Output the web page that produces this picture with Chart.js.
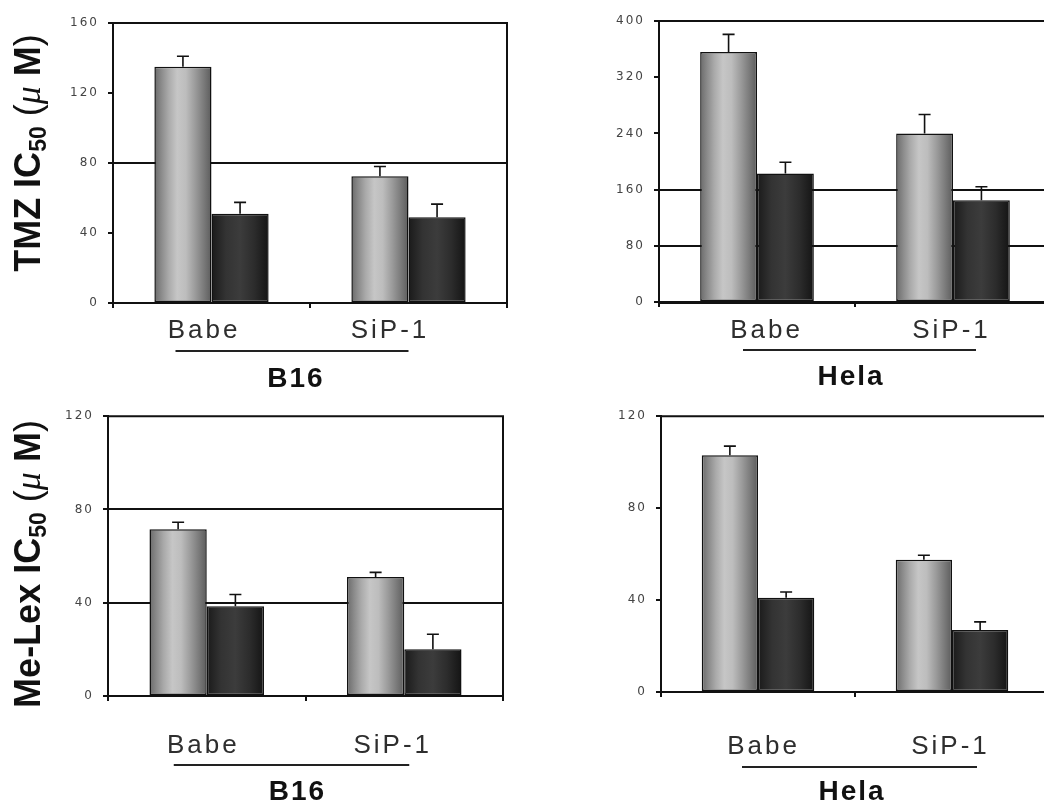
<!DOCTYPE html>
<html>
<head>
<meta charset="utf-8">
<script src="https://cdn.jsdelivr.net/npm/chart.js@4"></script>
<style>
  html, body { margin: 0; padding: 0; width: 1044px; height: 803px; overflow: hidden; background: #fff; }
  canvas { position: absolute; }
  .ytitle {
    position: absolute; white-space: nowrap; color: #111;
    font: bold 36px "Liberation Sans", Arial, sans-serif; line-height: 36px;
    transform: translate(-50%, -50%) rotate(-90deg);
  }
  .ytitle sub { font-size: 0.64em; line-height: 0; vertical-align: -0.28em; }
  .ytitle .thin { font-weight: normal; }
  .ytitle .mu { font-weight: normal; font-style: italic; font-family: "Liberation Serif", serif; }
</style>
</head>
<body>
<canvas id="p1" width="522" height="400" style="left:0;top:0"></canvas>
<canvas id="p2" width="540" height="400" style="left:522px;top:0"></canvas>
<canvas id="p3" width="522" height="403" style="left:0;top:400px"></canvas>
<canvas id="p4" width="540" height="403" style="left:522px;top:400px"></canvas>
<div class="ytitle" style="left:28px;top:153px">TMZ IC<sub>50</sub> <span class="thin">(</span><span class="mu">μ</span> M<span class="thin">)</span></div>
<div class="ytitle" style="left:28px;top:564px">Me-Lex IC<sub>50</sub> <span class="thin">(</span><span class="mu">μ</span> M<span class="thin">)</span></div>
<script>
// Cell lines and treatment groups
const categories = ['Babe', 'SiP-1'];
const cellB16 = 'B16';
const cellHela = 'Hela';

// Y-axis tick values per panel
const ticksTmzB16 = [0, 40, 80, 120, 160];
const ticksTmzHela = [0, 80, 160, 240, 320, 400];
const ticksMeLexB16 = [0, 40, 80, 120];
const ticksMeLexHela = [0, 40, 80, 120];

// TMZ IC50 (µM), B16
const tmzB16Grey = [135, 72.5];
const tmzB16GreyErr = [6, 5.5];
const tmzB16Black = [51, 49];
const tmzB16BlackErr = [6.5, 7.5];

// TMZ IC50 (µM), Hela
const tmzHelaGrey = [356, 240];
const tmzHelaGreyErr = [25, 27];
const tmzHelaBlack = [183, 145];
const tmzHelaBlackErr = [16, 19];

// Me-Lex IC50 (µM), B16
const meLexB16Grey = [71.5, 51];
const meLexB16GreyErr = [3, 2];
const meLexB16Black = [38.5, 20];
const meLexB16BlackErr = [5, 6.5];

// Me-Lex IC50 (µM), Hela
const meLexHelaGrey = [103, 57.5];
const meLexHelaGreyErr = [4, 2];
const meLexHelaBlack = [41, 27];
const meLexHelaBlackErr = [2.5, 3.5];

const CAT_PCT = 0.58;
const INK = '#111';

// Cylinder-like shading across each bar
const greyStops = [[0, '#6a6a6a'], [0.12, '#8a8a8a'], [0.25, '#aaaaaa'], [0.4, '#c6c6c6'], [0.55, '#bdbdbd'], [0.72, '#9a9a9a'], [0.88, '#777777'], [1, '#5c5c5c']];
const blackStops = [[0, '#1a1a1a'], [0.25, '#333333'], [0.5, '#3c3c3c'], [0.75, '#2c2c2c'], [1, '#141414']];

function shadedFill(ctx, stops) {
  const chart = ctx.chart;
  const xs = chart.scales && chart.scales.x;
  if (ctx.type !== 'data' || !xs) return stops[2][1];
  const centre = xs.getPixelForValue(ctx.dataIndex);
  const half = (xs.width / categories.length) * CAT_PCT / 2;
  if (!isFinite(centre) || !isFinite(half) || half <= 0) return stops[2][1];
  const left = ctx.datasetIndex === 0 ? centre - half : centre;
  const g = chart.ctx.createLinearGradient(left, 0, left + half, 0);
  stops.forEach(([o, c]) => g.addColorStop(o, c));
  return g;
}

// Upward error bars with caps
const errorBars = {
  id: 'errorBars',
  afterDatasetsDraw(chart) {
    const c = chart.ctx, ys = chart.scales.y;
    c.save();
    c.strokeStyle = INK;
    c.lineWidth = 1.6;
    chart.data.datasets.forEach((ds, di) => {
      chart.getDatasetMeta(di).data.forEach((bar, i) => {
        const top = ys.getPixelForValue(ds.data[i] + ds.errors[i]);
        c.beginPath();
        c.moveTo(bar.x, bar.y);
        c.lineTo(bar.x, top);
        c.moveTo(bar.x - 6, top);
        c.lineTo(bar.x + 6, top);
        c.stroke();
      });
    });
    c.restore();
  }
};

// Top and right edges of the plot frame
const frame = {
  id: 'frame',
  afterDraw(chart) {
    const a = chart.chartArea, c = chart.ctx;
    c.save();
    c.strokeStyle = INK;
    c.lineWidth = 2;
    c.beginPath();
    c.moveTo(a.left, a.top);
    c.lineTo(a.right, a.top);
    c.lineTo(a.right, a.bottom);
    c.stroke();
    c.restore();
  }
};

// Wide tracking for tick text
const tracking = {
  id: 'tracking',
  beforeDraw(chart) { chart.ctx.letterSpacing = '2px'; },
  afterDraw(chart) { chart.ctx.letterSpacing = '0px'; }
};

// Group names under the x axis, underline and cell-line name
const groupLabels = {
  id: 'groupLabels',
  afterDraw(chart, args, o) {
    const c = chart.ctx, xs = chart.scales.x, bottom = chart.chartArea.bottom;
    c.save();
    c.textAlign = 'center';
    c.textBaseline = 'alphabetic';
    c.fillStyle = '#2e2e2e';
    c.font = '26px "Liberation Sans", Arial, sans-serif';
    c.letterSpacing = '3px';
    categories.forEach((name, i) => {
      c.fillText(name, xs.getPixelForValue(i) + o.labelShift[i] + 1.5, bottom + o.labelBase);
    });
    const x0 = xs.getPixelForValue(0) + o.lineFrom;
    const x1 = xs.getPixelForValue(1) + o.lineTo;
    c.strokeStyle = '#222';
    c.lineWidth = 2;
    c.beginPath();
    c.moveTo(x0, bottom + o.lineY);
    c.lineTo(x1, bottom + o.lineY);
    c.stroke();
    c.fillStyle = INK;
    c.font = 'bold 28px "Liberation Sans", Arial, sans-serif';
    c.letterSpacing = '2px';
    c.fillText(o.title, (xs.left + xs.right) / 2 + o.titleShift + 1, bottom + o.titleBase);
    c.restore();
  }
};

const panels = [
  { id: 'p1', grey: tmzB16Grey, greyErr: tmzB16GreyErr, black: tmzB16Black, blackErr: tmzB16BlackErr,
    ticks: ticksTmzB16, grid: [80], title: cellB16,
    pad: { top: 23, right: 15 }, yWidth: 113, xHeight: 97, axisWidth: 2,
    labelShift: [-9, -20], labelBase: 35, lineY: 48, lineFrom: -36, lineTo: 0, titleShift: -15, titleBase: 84 },
  { id: 'p2', grey: tmzHelaGrey, greyErr: tmzHelaGreyErr, black: tmzHelaBlack, blackErr: tmzHelaBlackErr,
    ticks: ticksTmzHela, grid: [80, 160], title: cellHela,
    pad: { top: 21, right: 11 }, yWidth: 137, xHeight: 98, axisWidth: 3,
    labelShift: [8, -3], labelBase: 36, lineY: 48, lineFrom: -14, lineTo: 23, titleShift: -5, titleBase: 83 },
  { id: 'p3', grey: meLexB16Grey, greyErr: meLexB16GreyErr, black: meLexB16Black, blackErr: meLexB16BlackErr,
    ticks: ticksMeLexB16, grid: [40, 80], title: cellB16,
    pad: { top: 14, right: 19 }, yWidth: 108, xHeight: 107, axisWidth: 2,
    labelShift: [-5, -13], labelBase: 57, lineY: 69, lineFrom: -33, lineTo: 5, titleShift: -9, titleBase: 104 },
  { id: 'p4', grey: meLexHelaGrey, greyErr: meLexHelaGreyErr, black: meLexHelaBlack, blackErr: meLexHelaBlackErr,
    ticks: ticksMeLexHela, grid: [], title: cellHela,
    pad: { top: 13, right: 13 }, yWidth: 139, xHeight: 111, axisWidth: 2,
    labelShift: [4, -3], labelBase: 62, lineY: 75, lineFrom: -16, lineTo: 25, titleShift: -4, titleBase: 108 }
];

panels.forEach(p => {
  const yMax = p.ticks[p.ticks.length - 1];
  new Chart(document.getElementById(p.id), {
    type: 'bar',
    data: {
      labels: categories,
      datasets: [
        { data: p.grey, errors: p.greyErr, backgroundColor: ctx => shadedFill(ctx, greyStops) },
        { data: p.black, errors: p.blackErr, backgroundColor: ctx => shadedFill(ctx, blackStops) }
      ]
    },
    options: {
      responsive: false,
      animation: false,
      devicePixelRatio: 1,
      categoryPercentage: CAT_PCT,
      barPercentage: 1,
      datasets: { bar: { borderColor: INK, borderWidth: 1.5, borderSkipped: false } },
      layout: { padding: { top: p.pad.top, right: p.pad.right, left: 0, bottom: 0 } },
      plugins: {
        legend: { display: false },
        tooltip: { enabled: false },
        groupLabels: {
          labelShift: p.labelShift, labelBase: p.labelBase, lineY: p.lineY,
          lineFrom: p.lineFrom, lineTo: p.lineTo, title: p.title,
          titleShift: p.titleShift, titleBase: p.titleBase
        }
      },
      scales: {
        x: {
          offset: true,
          grid: { offset: true, drawOnChartArea: false, drawTicks: true, tickLength: 5, color: INK, lineWidth: 2 },
          border: { display: true, color: INK, width: p.axisWidth },
          ticks: { display: false },
          afterFit: s => { s.height = p.xHeight; }
        },
        y: {
          min: 0, max: yMax,
          afterBuildTicks: s => { s.ticks = p.ticks.map(v => ({ value: v })); },
          grid: {
            drawTicks: true, tickLength: 5, lineWidth: 2, tickColor: INK,
            color: ctx => (ctx.tick && p.grid.includes(ctx.tick.value)) ? INK : 'rgba(0,0,0,0)'
          },
          border: { display: true, color: INK, width: 2 },
          ticks: {
            padding: 9, color: '#444',
            font: { family: '"DejaVu Sans", sans-serif', size: 12 }
          },
          afterFit: s => { s.width = p.yWidth; }
        }
      }
    },
    plugins: [tracking, errorBars, frame, groupLabels]
  });
});
</script>
</body>
</html>
